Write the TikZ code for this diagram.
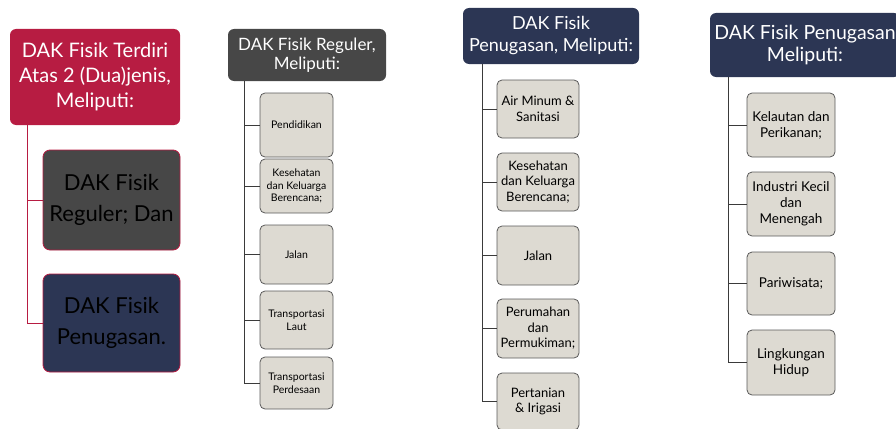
\documentclass[tikz,border=0pt]{standalone}
\usepackage{fontspec}
\setmainfont{Lato}
\definecolor{crim}{HTML}{B71C42}
\definecolor{dgray}{HTML}{474747}
\definecolor{navy}{HTML}{2C3654}
\definecolor{lbox}{HTML}{DDDAD2}
\definecolor{lborder}{HTML}{5A5A5A}
\definecolor{lline}{HTML}{3A3A3A}
\tikzset{
  hdr/.style={rounded corners=6pt, inner sep=1pt, align=center, text=white},
  big/.style={rounded corners=7pt, draw=crim, line width=0.8pt, inner sep=1pt, align=center, text=black},
  child/.style={rounded corners=5pt, draw=lborder, fill=lbox, line width=0.8pt, inner sep=1pt, align=center, text=black},
  conn/.style={draw=lline, line width=0.9pt},
  cconn/.style={draw=crim, line width=0.9pt},
  sz/.style 2 args={minimum width=#1pt, minimum height=#2pt},
}
\begin{document}
\begin{tikzpicture}[x=1pt,y=-1pt]
\useasboundingbox (0,0) rectangle (896,428);
\begin{scope}
\clip (0,0) rectangle (896,428);
% Panel 1
\node[hdr, fill=crim, sz={170}{96}, font=\fontsize{20}{25}\selectfont] (p1h) at (95,77) {DAK Fisik Terdiri\\Atas 2 (Dua)jenis,\\Meliputi:};
\node[big, fill=dgray, sz={137}{100}, font=\fontsize{22}{31}\selectfont] (p1a) at (111.5,200) {DAK Fisik\\Reguler; Dan};
\node[big, fill=navy, sz={137}{98}, font=\fontsize{22}{31}\selectfont] (p1b) at (111.5,323) {DAK Fisik\\Penugasan.};
\coordinate (p1t) at (27,125);
\draw[cconn] (p1t) |- (p1b.west);
\draw[cconn] (p1t |- p1a.west) -- (p1a.west);

% Panel 2
\node[hdr, fill=dgray, sz={158}{52}, font=\fontsize{17}{19}\selectfont] (p2h) at (307,55) {DAK Fisik Reguler,\\Meliputi:};
\begin{scope}[every node/.append style={child, font=\fontsize{10.5}{12.5}\selectfont}]
\node[sz={73}{64}] (p2a) at (296.5,125) {Pendidikan};
\node[sz={73}{54}] (p2b) at (296.5,186) {Kesehatan\\dan Keluarga\\Berencana;};
\node[sz={73}{59}] (p2c) at (296.5,254.5) {Jalan};
\node[sz={73}{58}] (p2d) at (296.5,320) {Transportasi\\Laut};
\node[sz={73}{52}] (p2e) at (296.5,383) {Transportasi\\Perdesaan};
\end{scope}
\coordinate (p2t) at (244,81);
\draw[conn] (p2t) |- (p2e.west);
\foreach \n in {p2a,p2b,p2c,p2d} \draw[conn] (p2t |- \n.west) -- (\n.west);

% Panel 3
\node[hdr, fill=navy, sz={176}{56}, font=\fontsize{18}{22}\selectfont] (p3h) at (551,36) {DAK Fisik\\Penugasan, Meliputi:};
\begin{scope}[every node/.append style={child, font=\fontsize{13}{15.5}\selectfont}]
\node[sz={82}{58}] (p3a) at (538,109) {Air Minum \&\\Sanitasi};
\node[sz={82}{58}] (p3b) at (538,182) {Kesehatan\\dan Keluarga\\Berencana;};
\node[sz={82}{59}] (p3c) at (538,255.5) {Jalan};
\node[sz={82}{59}] (p3d) at (538,328.5) {Perumahan\\dan\\Permukiman;};
\node[sz={82}{57}] (p3e) at (538,401.5) {Pertanian\\\& Irigasi};
\end{scope}
\coordinate (p3t) at (482,64);
\draw[conn] (p3t) |- (p3e.west);
\foreach \n in {p3a,p3b,p3c,p3d} \draw[conn] (p3t |- \n.west) -- (\n.west);

% Panel 4
\node[hdr, fill=navy, sz={190}{64}, font=\fontsize{19.5}{22}\selectfont] (p4h) at (805,45) {DAK Fisik Penugasan\\Meliputi:};
\begin{scope}[every node/.append style={child, font=\fontsize{13.5}{16}\selectfont}]
\node[sz={88}{64}] (p4a) at (791,125) {Kelautan dan\\Perikanan;};
\node[sz={88}{64}] (p4b) at (791,204) {Industri Kecil\\dan\\Menengah};
\node[sz={88}{63}] (p4c) at (791,283.5) {Pariwisata;};
\node[sz={88}{65}] (p4d) at (791,362.5) {Lingkungan\\Hidup};
\end{scope}
\coordinate (p4t) at (728,77);
\draw[conn] (p4t) |- (p4d.west);
\foreach \n in {p4a,p4b,p4c} \draw[conn] (p4t |- \n.west) -- (\n.west);
\end{scope}
\end{tikzpicture}
\end{document}
